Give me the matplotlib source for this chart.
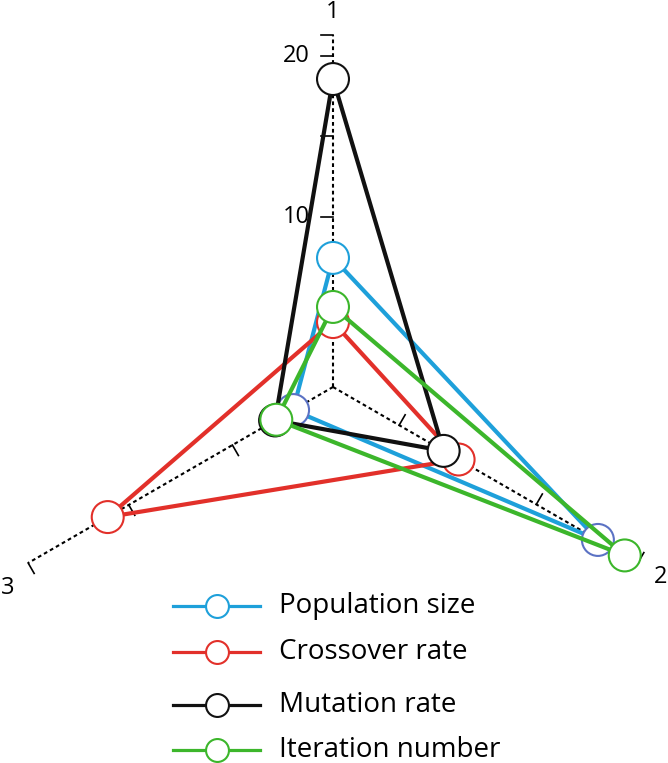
import matplotlib.pyplot as plt
import numpy as np

plt.rcParams['font.family'] = ['Open Sans', 'DejaVu Sans']

# series names and colours
series = ['Population size', 'Crossover rate', 'Mutation rate', 'Iteration number']
line_colors = ['#1ea0da', '#e2302a', '#111111', '#3cb62b']

# axis 1 in its labelled scale, axes 2 and 3 as a fraction of the axis length
axis1 = [7.43, 3.44, 18.56, 4.38]
axis2 = [0.869, 0.412, 0.363, 0.957]
axis3 = [0.131, 0.739, 0.19, 0.186]

# edge colour of each marker (axis 1, 2, 3)
marker_edges = [
    ['#1ea0da', '#5b72c4', '#5b72c4'],
    ['#e2302a', '#e2302a', '#e2302a'],
    ['#111111', '#111111', '#111111'],
    ['#3cb62b', '#3cb62b', '#3cb62b'],
]

axis_names = ['1', '2', '3']
a1_min, a1_max = -0.6, 21.3
a1_ticks = [10, 15, 20]
a1_ticklabels = {10: '10', 20: '20'}
a2_ticks = [0.217, 0.667]
a3_ticks = [0.33, 0.67]

L = 352.0
angles = np.radians([90, -30, 210])

fig = plt.figure(figsize=(6.68, 7.63), dpi=100)
ax = fig.add_axes([0, 0, 1, 1])
ax.set_xlim(-333, 335)
ax.set_ylim(-376, 387)
ax.set_aspect('equal')
ax.axis('off')


def point(k, r):
    return r * np.cos(angles[k]), r * np.sin(angles[k])


def r1(v):
    return (v - a1_min) / (a1_max - a1_min) * L


# axes, ticks and end brackets
tick_len = 12
for k in range(3):
    ex, ey = point(k, L)
    ax.plot([0, ex], [0, ey], color='black', lw=1.5, ls=(0, (1.8, 1.5)), zorder=1)
    perp = angles[k] + np.pi / 2
    px, py = np.cos(perp) * tick_len, np.sin(perp) * tick_len
    if k == 0:
        rs = [r1(v) for v in a1_ticks] + [L]
    elif k == 1:
        rs = [t * L for t in a2_ticks] + [L]
    else:
        rs = [t * L for t in a3_ticks] + [L]
    for r in rs:
        tx, ty = point(k, r)
        ax.plot([tx, tx + px], [ty, ty + py], color='black', lw=1.2, zorder=1)

for v, lab in a1_ticklabels.items():
    ax.text(-23, r1(v), lab, ha='right', va='center', fontsize=17)

ax.text(0, 375, axis_names[0], ha='center', va='center', fontsize=17)
ax.text(334, -190, axis_names[1], ha='right', va='center', fontsize=17)
ax.text(-332, -201, axis_names[2], ha='left', va='center', fontsize=17)

# series triangles
for i in range(len(series)):
    rs = [r1(axis1[i]), axis2[i] * L, axis3[i] * L]
    pts = [point(k, rs[k]) for k in range(3)]
    xs = [p[0] for p in pts] + [pts[0][0]]
    ys = [p[1] for p in pts] + [pts[0][1]]
    ax.plot(xs, ys, color=line_colors[i], lw=3, solid_capstyle='round',
            solid_joinstyle='round', zorder=2 + 2 * i)
    ax.scatter(xs[:3], ys[:3], s=23 ** 2, facecolor='white',
               edgecolors=marker_edges[i], linewidths=1.5, zorder=3 + 2 * i)

# legend drawn by hand
legend_y = [-219, -265, -318, -363]
for i in range(len(series)):
    y = legend_y[i]
    ax.plot([-160, -73], [y, y], color=line_colors[i], lw=2.3, zorder=20)
    ax.plot([-116], [y], marker='o', ms=16.5, mfc='white', mec=line_colors[i],
            mew=1.5, zorder=21)
    ax.text(-54, y, series[i], ha='left', va='center', fontsize=20)

fig.savefig('out.png', dpi=100)
